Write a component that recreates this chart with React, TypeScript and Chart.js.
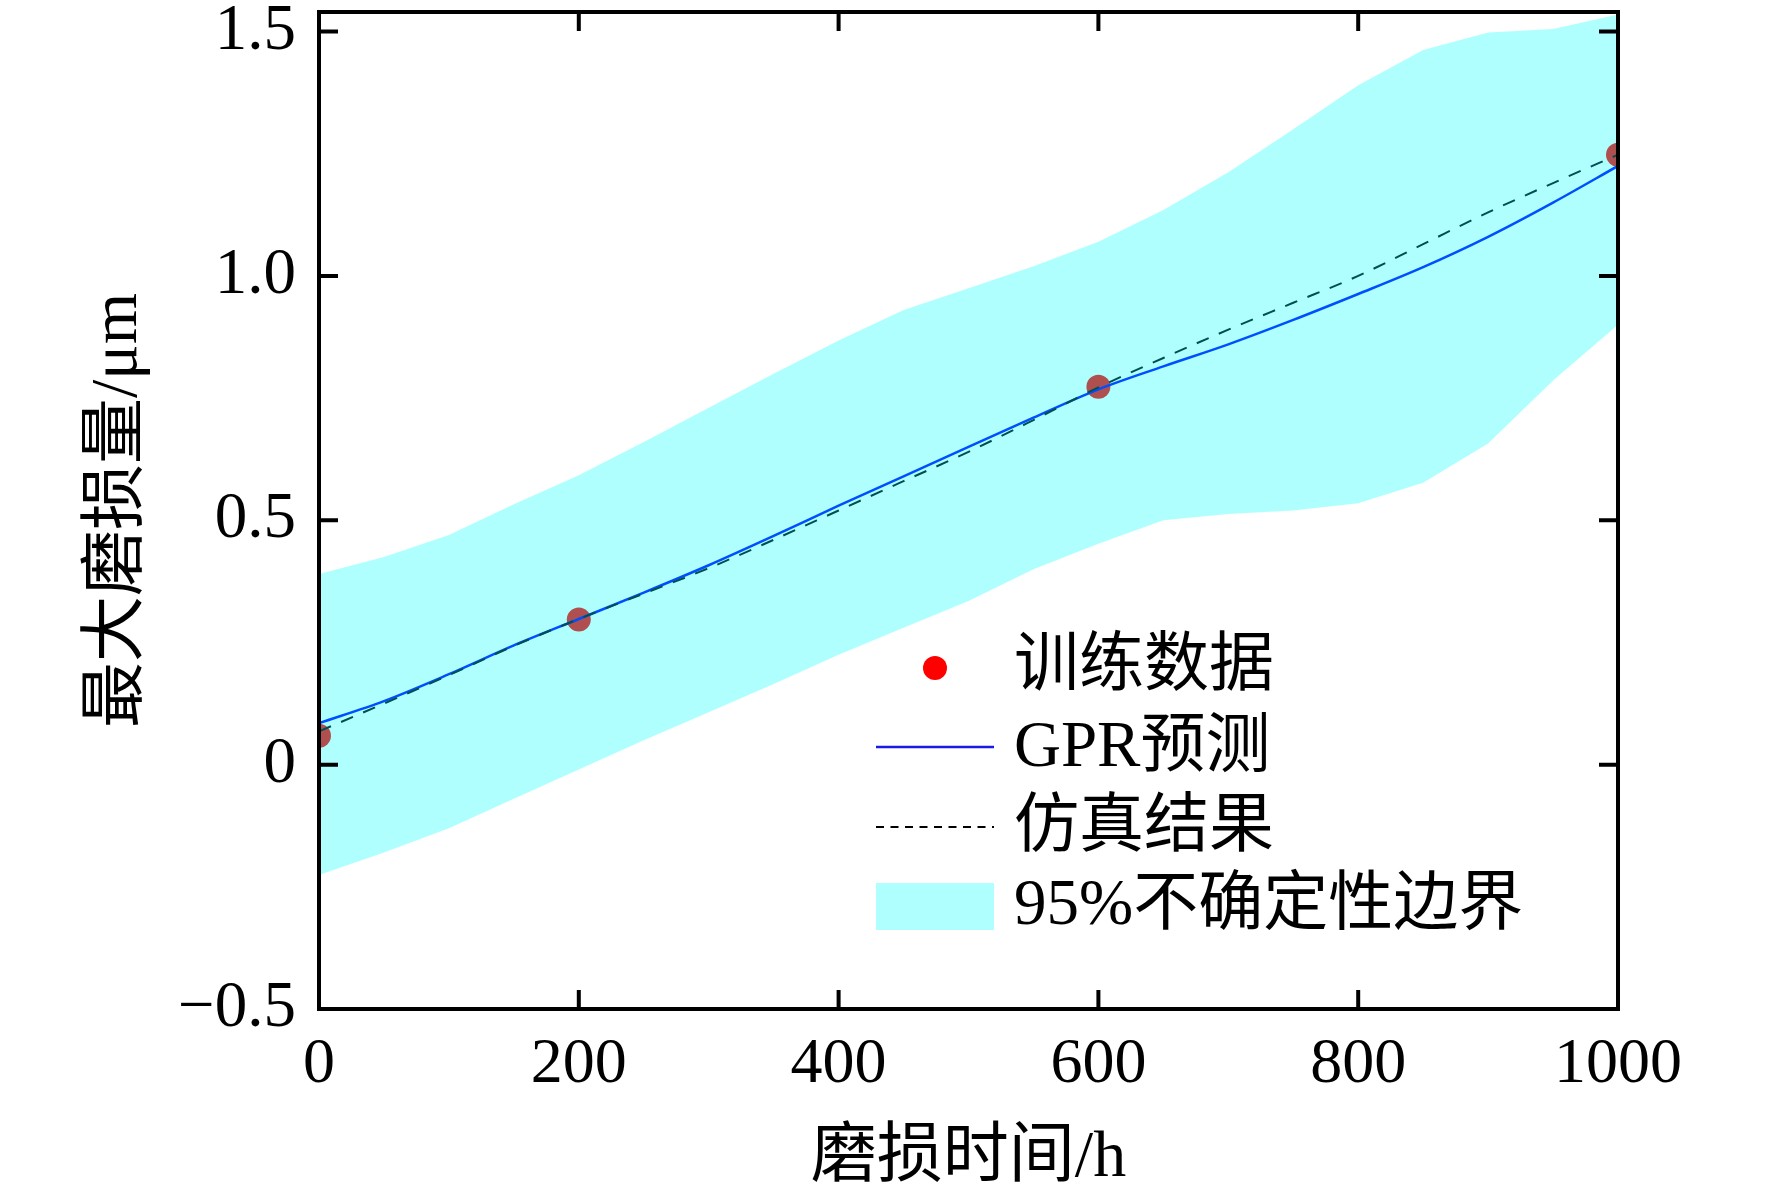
import { useEffect, useRef } from "react";
import { Chart, registerables } from "chart.js";

Chart.register(...registerables);

// ---- data ----
const xGrid = [0, 50, 100, 150, 200, 250, 300, 350, 400, 450, 500, 550, 600, 650, 700, 750, 800, 850, 900, 950, 1000];
const upperBound = [0.39, 0.425, 0.47, 0.533, 0.592, 0.66, 0.73, 0.8, 0.868, 0.93, 0.975, 1.02, 1.07, 1.135, 1.212, 1.3, 1.39, 1.462, 1.498, 1.505, 1.535];
const lowerBound = [-0.226, -0.18, -0.13, -0.07, -0.01, 0.05, 0.107, 0.165, 0.225, 0.28, 0.335, 0.4, 0.452, 0.5, 0.513, 0.52, 0.535, 0.577, 0.657, 0.786, 0.9];
const gprPrediction = [0.085, 0.13, 0.185, 0.244, 0.298, 0.352, 0.408, 0.468, 0.53, 0.59, 0.65, 0.71, 0.768, 0.815, 0.86, 0.91, 0.963, 1.018, 1.08, 1.15, 1.225];
const simulationResult = [0.068, 0.125, 0.183, 0.243, 0.298, 0.35, 0.402, 0.46, 0.52, 0.58, 0.64, 0.705, 0.772, 0.832, 0.89, 0.945, 1.0, 1.065, 1.13, 1.19, 1.248];
const trainX = [0, 200, 600, 1000];
const trainY = [0.059, 0.297, 0.773, 1.248];

const xTicks = [0, 200, 400, 600, 800, 1000];
const xTickLabels = ["0", "200", "400", "600", "800", "1000"];
const yTicks = [-0.5, 0, 0.5, 1.0, 1.5];
const yTickLabels = ["\u22120.5", "0", "0.5", "1.0", "1.5"];

const legendLabels = ["训练数据", "GPR预测", "仿真结果", "95%不确定性边界"];
const xTitle = "磨损时间/h";
const yTitle = "最大磨损量/μm";

const SERIF = '"Liberation Serif", "Times New Roman", "Noto Sans CJK SC", serif';

const framePlugin = {
  id: "frameTicks",
  afterDatasetsDraw(chart: any) {
    const { ctx, chartArea: a, scales } = chart;
    ctx.save();
    ctx.strokeStyle = "#000";
    ctx.lineWidth = 4;
    ctx.lineCap = "butt";
    const L = 19;
    ctx.beginPath();
    for (const v of xTicks) {
      const px = scales.x.getPixelForValue(v);
      ctx.moveTo(px, a.bottom);
      ctx.lineTo(px, a.bottom - L);
      ctx.moveTo(px, a.top);
      ctx.lineTo(px, a.top + L);
    }
    for (const v of yTicks) {
      const py = scales.y.getPixelForValue(v);
      ctx.moveTo(a.left, py);
      ctx.lineTo(a.left + L, py);
      ctx.moveTo(a.right, py);
      ctx.lineTo(a.right - L, py);
    }
    ctx.stroke();
    ctx.strokeRect(a.left, a.top, a.right - a.left, a.bottom - a.top);
    ctx.restore();
  },
};

const legendPlugin = {
  id: "customLegend",
  afterDraw(chart: any) {
    const { ctx } = chart;
    const x0 = 876;
    const x1 = 994;
    const tx = 1014;
    const rows = [668, 749, 829, 907];
    ctx.save();
    ctx.fillStyle = "#ff0000";
    ctx.beginPath();
    ctx.arc((x0 + x1) / 2, rows[0], 12, 0, Math.PI * 2);
    ctx.fill();
    ctx.strokeStyle = "#1a1ae6";
    ctx.lineWidth = 2.5;
    ctx.beginPath();
    ctx.moveTo(x0, rows[1] - 2);
    ctx.lineTo(x1, rows[1] - 2);
    ctx.stroke();
    ctx.strokeStyle = "#000";
    ctx.lineWidth = 2;
    ctx.setLineDash([8, 6.5]);
    ctx.beginPath();
    ctx.moveTo(x0, rows[2] - 2);
    ctx.lineTo(x1, rows[2] - 2);
    ctx.stroke();
    ctx.setLineDash([]);
    ctx.fillStyle = "#b0ffff";
    ctx.fillRect(x0, rows[3] - 24, x1 - x0, 47);
    ctx.fillStyle = "#000";
    ctx.font = "65px " + SERIF;
    ctx.textAlign = "left";
    ctx.textBaseline = "middle";
    legendLabels.forEach((t, i) => ctx.fillText(t, tx, rows[i]));
    ctx.restore();
  },
};

export default function App() {
  const ref = useRef<HTMLCanvasElement | null>(null);

  useEffect(() => {
    document.body.style.margin = "0";
    const canvas = ref.current;
    if (!canvas) return;
    const pts = (ys: number[]) => xGrid.map((x, i) => ({ x, y: ys[i] }));
    const chart = new Chart(canvas, {
      type: "line",
      data: {
        datasets: [
          {
            label: legendLabels[0],
            data: trainX.map((x, i) => ({ x, y: trainY[i] })),
            showLine: false,
            pointRadius: 12,
            pointHoverRadius: 12,
            pointBackgroundColor: "#ff0000",
            pointBorderWidth: 0,
            borderColor: "#ff0000",
            backgroundColor: "#ff0000",
            order: 4,
            clip: 0,
          } as any,
          {
            label: legendLabels[1],
            data: pts(gprPrediction),
            borderColor: "#0000ff",
            borderWidth: 2.5,
            pointRadius: 0,
            cubicInterpolationMode: "monotone",
            fill: false,
            order: 3,
            clip: 0,
          },
          {
            label: legendLabels[2],
            data: pts(simulationResult),
            borderColor: "#000000",
            borderWidth: 2,
            borderDash: [13, 11],
            pointRadius: 0,
            cubicInterpolationMode: "monotone",
            fill: false,
            order: 2,
            clip: 0,
          },
          {
            label: "lower",
            data: pts(lowerBound),
            borderWidth: 0,
            borderColor: "rgba(0,0,0,0)",
            pointRadius: 0,
            fill: false,
            order: 1,
            clip: 0,
          },
          {
            label: legendLabels[3],
            data: pts(upperBound),
            borderWidth: 0,
            borderColor: "rgba(0,0,0,0)",
            backgroundColor: "rgba(0,255,255,0.31)",
            pointRadius: 0,
            fill: 3,
            order: 0,
            clip: 0,
          },
        ],
      },
      options: {
        animation: false,
        responsive: false,
        devicePixelRatio: 1,
        events: [],
        layout: { padding: { top: 9, right: 154, left: 0, bottom: 0 } },
        plugins: {
          legend: { display: false },
          tooltip: { enabled: false },
        },
        scales: {
          x: {
            type: "linear",
            min: 0,
            max: 1000,
            grid: { display: false, drawTicks: false },
            border: { display: false },
            afterBuildTicks: (s: any) => {
              s.ticks = xTicks.map((v) => ({ value: v }));
            },
            afterFit: (s: any) => {
              s.height = 191;
              s.paddingLeft = 0;
              s.paddingRight = 0;
            },
            ticks: {
              autoSkip: false,
              maxRotation: 0,
              padding: 18,
              color: "#000",
              font: { family: SERIF, size: 64 },
              callback: (v: any) => {
                const i = xTicks.indexOf(Number(v));
                return i >= 0 ? xTickLabels[i] : "";
              },
            },
            title: {
              display: true,
              text: xTitle,
              color: "#000",
              font: { family: SERIF, size: 66 },
              padding: { top: 0, bottom: 2 },
            },
          },
          y: {
            type: "linear",
            min: -0.5,
            max: 1.54,
            grid: { display: false, drawTicks: false },
            border: { display: false },
            afterBuildTicks: (s: any) => {
              s.ticks = yTicks.map((v) => ({ value: v }));
            },
            afterFit: (s: any) => {
              s.width = 319;
              s.paddingTop = 0;
              s.paddingBottom = 0;
            },
            ticks: {
              autoSkip: false,
              padding: 23,
              color: "#000",
              font: { family: SERIF, size: 65 },
              callback: (v: any) => {
                const i = yTicks.indexOf(Number(v));
                return i >= 0 ? yTickLabels[i] : "";
              },
            },
            title: {
              display: true,
              text: yTitle,
              color: "#000",
              font: { family: SERIF, size: 66 },
              padding: { top: 79, bottom: 0 },
            },
          },
        },
      },
      plugins: [framePlugin, legendPlugin],
    });
    return () => chart.destroy();
  }, []);

  return (
    <div style={{ position: "fixed", left: 0, top: 0, width: 1772, height: 1200, background: "#fff" }}>
      <canvas ref={ref} width={1772} height={1200} style={{ width: 1772, height: 1200, display: "block" }} />
    </div>
  );
}
